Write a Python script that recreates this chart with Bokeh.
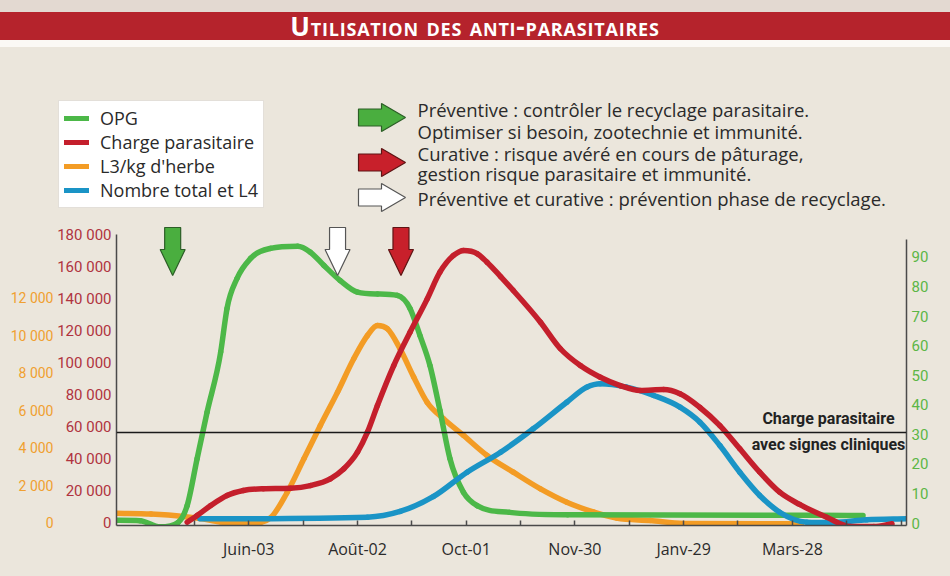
#Utilisation des anti-parasitaires : OPG, charge parasitaire, L3/kg d'herbe, nombre total et L4
import math

from bokeh.plotting import figure
from bokeh.layouts import column
from bokeh.models import Range1d, LinearAxis, FixedTicker, Span, Legend, LegendItem, Div
from bokeh.core.properties import value
from bokeh.embed import file_html
from bokeh.resources import INLINE

#données (x en jours depuis le début de la saison)
opg_days = [0, 13, 24, 34, 39, 44.5, 50, 57.5, 61, 66.5, 74, 85, 100, 107, 114.5, 123.5, 133, 144,
            155, 162, 167.5, 173, 178.5, 184, 191.5, 199, 217, 249, 388, 412]
opg = [0.9, 0.8, -1.3, 0.2, 5.9, 21.8, 37.5, 57.8, 72.6, 82.7, 89.5, 92.9, 93.6, 91.6, 87.1, 82, 78.1, 77.5,
       77, 72.6, 63.4, 53.3, 38.1, 21.8, 10.4, 5.9, 3.6, 2.8, 2.6, 2.5]

charge_days = [39, 44.5, 52, 61, 70, 81, 96, 107, 118, 125.5, 133, 138.5, 144, 153, 162, 171.5, 178.5, 186,
               191.5, 199, 204.5, 212, 219, 234, 245, 256, 267, 278, 289, 302, 311, 322, 333, 344, 355,
               366, 377, 392, 405, 418, 428]
charge = [500, 4700, 10900, 17200, 20300, 21400, 21750, 23400, 27600, 33900, 44250, 56750, 73400, 98400,
          119250, 140100, 156750, 167200, 170300, 168400, 163000, 154000, 145300, 125500, 108900, 98400,
          91100, 85900, 82800, 83400, 80750, 72200, 60900, 46400, 31750, 19250, 11600, 3600, -2200, -2200, -500]

l3_days = [0, 19, 37, 46, 57.5, 70, 79.5, 85, 94, 103.5, 112.5, 122, 131, 138.5, 144, 149.5, 156.5, 164,
           171.5, 180.5, 191.5, 204.5, 219, 234, 248.5, 263.5, 276, 294.5, 313, 378]
l3 = [520, 480, 350, 240, 50, -30, 30, 270, 1600, 3440, 5200, 6980, 8770, 10000, 10530, 10360, 9290, 7790,
      6430, 5560, 4670, 3600, 2710, 1820, 1110, 580, 260, 130, -30, -40]

l4_days = [46, 138.5, 156.5, 175, 193.5, 212, 230, 248.5, 259.5, 267, 281.5, 296.5, 311, 322, 333, 344,
           355, 366, 381, 395.5, 414, 436]
l4 = [2600, 3600, 7200, 16600, 31750, 44250, 58900, 75500, 84900, 87000, 84900, 79700, 72400, 63000,
      48400, 31750, 17200, 6750, 500, 300, 2000, 2600]

#seuil : charge parasitaire avec signes cliniques
threshold = 56500

#traitements (flèches)
treatment_days = [31, 122, 157]
treatment_kind = ['preventive', 'mixte', 'curative']

#axes
tick_days = [43, 73, 103, 133, 163, 193, 223, 253, 283, 313, 343, 373, 403, 433]
tick_labels = ['', 'Juin-03', '', 'Août-02', '', 'Oct-01', '', 'Nov-30', '', 'Janv-29', '', 'Mars-28', '', '']
charge_ticks = [0, 20000, 40000, 60000, 80000, 100000, 120000, 140000, 160000, 180000]
charge_labels = ['0', '20 000', '40 000', '60 000', '80 000', '100 000', '120 000', '140 000', '160 000', '180 000']
l3_ticks = [0, 2000, 4000, 6000, 8000, 10000, 12000]
l3_labels = ['0', '2 000', '4 000', '6 000', '8 000', '10 000', '12 000']
opg_ticks = [0, 10, 20, 30, 40, 50, 60, 70, 80, 90]

series_names = ['OPG', 'Charge parasitaire', "L3/kg d'herbe", 'Nombre total et L4']
legend_arrows = ['preventive', 'curative', 'mixte']
legend_text = ["Préventive : contrôler le recyclage parasitaire.",
               "Optimiser si besoin, zootechnie et immunité.",
               "Curative : risque avéré en cours de pâturage,",
               "gestion risque parasitaire et immunité.",
               "Préventive et curative : prévention phase de recyclage."]

#mise en page
BG = '#ebe6dc'
GREEN, RED, ORANGE, BLUE = '#4cb848', '#c41f2c', '#f39c25', '#1a94c6'
ARROW_FILL = {'preventive': '#4aae3f', 'curative': '#c8202b', 'mixte': '#ffffff'}
ARROW_LINE = {'preventive': '#2c5e27', 'curative': '#5e1414', 'mixte': '#555555'}
TXT = '#2a2a2a'

W = 950
TITLE_H = 47
HEAD_H = 171
MAIN_H = 576 - TITLE_H - HEAD_H
LEFT, RIGHT, BOTTOM = 116, 44, 51
FW, FH = W - LEFT - RIGHT, MAIN_H - BOTTOM
X_END = 436
ZERO_PX = 2.5
K_CHARGE = 1.6 / 1000
K_L3 = 18.75 / 1000
K_OPG = 2.956


def y_range(k):
    start = -ZERO_PX / k
    return Range1d(start, start + FH / k)


def smooth(xs, ys):
    """segments de Bézier (Hermite monotone) passant par les points lus"""
    n = len(xs)
    h = [xs[i + 1] - xs[i] for i in range(n - 1)]
    d = [(ys[i + 1] - ys[i]) / h[i] for i in range(n - 1)]
    m = [d[0]] + [0.0] * (n - 2) + [d[-1]]
    for i in range(1, n - 1):
        if d[i - 1] * d[i] > 0:
            m[i] = (h[i] * d[i - 1] + h[i - 1] * d[i]) / (h[i - 1] + h[i])
    for k in range(n - 1):
        if d[k] == 0:
            m[k] = m[k + 1] = 0.0
            continue
        a, b = m[k] / d[k], m[k + 1] / d[k]
        s = a * a + b * b
        if s > 9:
            t = 3 / math.sqrt(s)
            m[k], m[k + 1] = t * a * d[k], t * b * d[k]
    seg = {k: [] for k in ['x0', 'y0', 'x1', 'y1', 'cx0', 'cy0', 'cx1', 'cy1']}
    for i in range(n - 1):
        seg['x0'].append(xs[i])
        seg['y0'].append(ys[i])
        seg['x1'].append(xs[i + 1])
        seg['y1'].append(ys[i + 1])
        seg['cx0'].append(xs[i] + h[i] / 3)
        seg['cy0'].append(ys[i] + m[i] * h[i] / 3)
        seg['cx1'].append(xs[i + 1] - h[i] / 3)
        seg['cy1'].append(ys[i + 1] - m[i + 1] * h[i] / 3)
    return seg


def down_arrow(cx, top):
    xs = [cx - 8, cx + 8, cx + 8, cx + 12.5, cx, cx - 12.5, cx - 8]
    ys = [top, top, top - 22, top - 22, top - 48, top - 22, top - 22]
    return xs, ys


def right_arrow(left, cy):
    # y vers le bas (en-tête)
    xs = [left, left + 23, left + 23, left + 47, left + 23, left + 23, left]
    ys = [cy - 8.5, cy - 8.5, cy - 14, cy, cy + 14, cy + 8.5, cy + 8.5]
    return xs, ys


#titre
title = Div(text='<div style="width:950px;height:47px;background:#e3d9d1;padding-top:12px;box-sizing:border-box;">'
                 '<div style="height:28px;background:#b5232c;color:#ffffff;text-align:center;'
                 'font-family:\'Open Sans\';font-weight:bold;font-size:26px;font-variant:small-caps;'
                 'letter-spacing:0.8px;line-height:28px;">Utilisation des anti-parasitaires</div>'
                 '<div style="height:7px;background:#fbf9f5;"></div></div>',
            width=W, height=TITLE_H, margin=0)

#en-tête : légende des courbes et des flèches
head = figure(width=W, height=HEAD_H, x_range=Range1d(0, W), y_range=Range1d(HEAD_H, 0),
              x_axis_type=None, y_axis_type=None, min_border=0, frame_align=False,
              background_fill_color=BG, border_fill_color=BG, outline_line_color=None,
              output_backend="svg", toolbar_location=None, margin=0)
keys = [head.line(x=[float('nan')], y=[float('nan')], line_color=c, line_width=5, line_cap='round')
        for c in [GREEN, RED, ORANGE, BLUE]]
legend = Legend(items=[LegendItem(label=s, renderers=[r]) for s, r in zip(series_names, keys)],
                location=(58, 10), glyph_width=25, glyph_height=24, label_height=24,
                label_standoff=11, padding=5, spacing=0, margin=0,
                label_text_font='Open Sans', label_text_font_size='18px', label_text_color=TXT,
                border_line_color='#c8bfb3', border_line_width=1.5,
                background_fill_color='white', background_fill_alpha=1)
head.add_layout(legend)

lxs, lys = [], []
for cy in [117 - TITLE_H, 162 - TITLE_H, 197 - TITLE_H]:
    xs, ys = right_arrow(358, cy)
    lxs.append(xs)
    lys.append(ys)
head.patches(lxs, lys, fill_color=[ARROW_FILL[k] for k in legend_arrows],
             line_color=[ARROW_LINE[k] for k in legend_arrows], line_width=1.2)
head.text(x=[417] * 5, y=[y - TITLE_H for y in [109, 131, 153, 173, 198]], text=legend_text,
          text_align='left', text_baseline='middle',
          text_font=value('Open Sans'), text_font_size='18.5px', text_color=TXT)

#graphique principal
p = figure(width=W, height=MAIN_H, x_range=Range1d(0, X_END), y_range=y_range(K_CHARGE),
           min_border_left=LEFT, min_border_right=RIGHT, min_border_top=0, min_border_bottom=BOTTOM,
           frame_align=False,
           background_fill_color=BG, border_fill_color=BG, outline_line_color=None,
           output_backend="svg", toolbar_location=None, margin=0)
p.extra_y_ranges = {'l3': y_range(K_L3), 'opg': y_range(K_OPG), 'px': Range1d(0, FH)}
p.extra_x_ranges = {'px': Range1d(0, FW)}
p.xgrid.visible = False
p.ygrid.visible = False

# axe x
xa = p.xaxis[0]
xa.ticker = FixedTicker(ticks=tick_days)
xa.major_label_overrides = dict(zip(tick_days, tick_labels))
xa.axis_line_color = '#4a4a4a'
xa.axis_line_width = 1.5
xa.major_tick_in = 5
xa.major_tick_out = 0
xa.major_tick_line_color = '#4a4a4a'
xa.major_tick_line_width = 1.5
xa.major_label_standoff = 12
xa.major_label_text_font = 'Open Sans'
xa.major_label_text_font_size = '16px'
xa.major_label_text_color = '#2b2b2b'

# axe charge parasitaire (gauche)
ya = p.yaxis[0]
ya.ticker = FixedTicker(ticks=charge_ticks)
ya.major_label_overrides = dict(zip(charge_ticks, charge_labels))
ya.bounds = (-ZERO_PX / K_CHARGE, 180600)
ya.axis_line_color = '#4a4a4a'
ya.axis_line_width = 1.5
ya.major_tick_in = 0
ya.major_tick_out = 0
ya.major_label_standoff = 5
ya.major_label_text_font = 'Roboto'
ya.major_label_text_font_size = '15px'
ya.major_label_text_color = '#b0333f'

# axe L3/kg (gauche, extérieur)
ax_l3 = LinearAxis(y_range_name='l3', ticker=FixedTicker(ticks=l3_ticks),
                   major_label_overrides=dict(zip(l3_ticks, l3_labels)),
                   axis_line_color=None, major_tick_in=0, major_tick_out=0,
                   major_label_standoff=1, major_label_text_font='Roboto',
                   major_label_text_font_size='14px', major_label_text_color='#f0a030')
p.add_layout(ax_l3, 'left')

# axe OPG (droite)
ax_opg = LinearAxis(y_range_name='opg', ticker=FixedTicker(ticks=opg_ticks),
                    bounds=(-ZERO_PX / K_OPG, 96), axis_line_color='#4a4a4a', axis_line_width=1.5,
                    major_tick_in=0, major_tick_out=0, major_label_standoff=5,
                    major_label_text_font='Roboto', major_label_text_font_size='15px',
                    major_label_text_color='#5cb646')
p.add_layout(ax_opg, 'right')

# courbes
style = dict(line_width=5.5, line_cap='round')
p.bezier(**smooth(l3_days, l3), y_range_name='l3', line_color=ORANGE, **style)
p.bezier(**smooth(opg_days, opg), y_range_name='opg', line_color=GREEN, **style)
p.bezier(**smooth(l4_days, l4), line_color=BLUE, **style)
p.bezier(**smooth(charge_days, charge), line_color=RED, **style)

# seuil
p.add_layout(Span(location=threshold, dimension='width', line_color='#1a1a1a', line_width=1.5))
p.text(x=[712, 712], y=[107, 81], text=['Charge parasitaire', 'avec signes cliniques'],
       x_range_name='px', y_range_name='px', text_align='center', text_baseline='middle',
       text_font=value('Roboto'), text_font_style='bold', text_font_size='16px', text_color='#222222')

# flèches de traitement
axs, ays = [], []
for d in treatment_days:
    xs, ys = down_arrow(d * FW / X_END, 298)
    axs.append(xs)
    ays.append(ys)
p.patches(axs, ays, x_range_name='px', y_range_name='px',
          fill_color=[ARROW_FILL[k] for k in treatment_kind],
          line_color=[ARROW_LINE[k] for k in treatment_kind], line_width=1.2)

page = column(title, head, p, spacing=0, styles={'background-color': BG})
open("out.html", "w").write(file_html(page, INLINE))
